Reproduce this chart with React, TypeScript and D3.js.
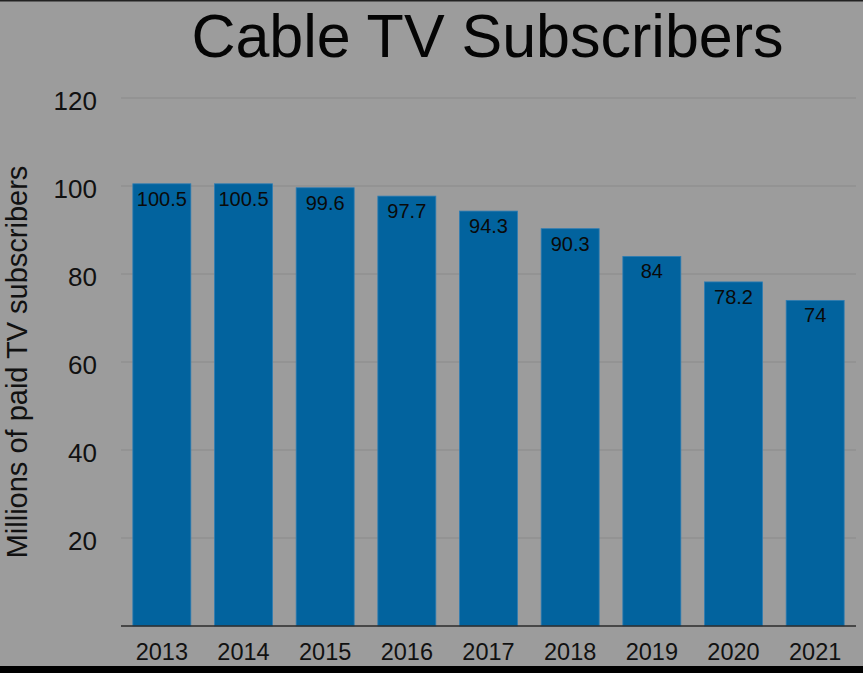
import React, { useEffect, useRef } from 'react';
import * as d3 from 'd3';

const years = ['2013', '2014', '2015', '2016', '2017', '2018', '2019', '2020', '2021'];
const subscribers = [100.5, 100.5, 99.6, 97.7, 94.3, 90.3, 84, 78.2, 74];
const yTicks = [20, 40, 60, 80, 100, 120];

const W = 863;
const H = 673;

export default function App() {
  const svgRef = useRef<SVGSVGElement>(null);

  useEffect(() => {
    if (!svgRef.current) return;
    const svg = d3.select(svgRef.current);
    svg.selectAll('*').remove();

    const font = '"Liberation Sans", Arial, Helvetica, sans-serif';
    const plot = { left: 121, right: 856, top: 98, bottom: 626 };

    // background + dark frame edges
    svg.append('rect').attr('width', W).attr('height', H).attr('fill', '#9c9c9c');
    svg.append('rect').attr('x', 0).attr('y', 666).attr('width', W).attr('height', H - 666).attr('fill', '#000');
    svg.append('rect').attr('x', 0).attr('y', 0).attr('width', W).attr('height', 1.5).attr('fill', '#222');

    const x = d3.scaleBand<string>()
      .domain(years)
      .range([plot.left, plot.right])
      .paddingInner(0.29)
      .paddingOuter(0.145);

    const y = d3.scaleLinear()
      .domain([0, 120])
      .range([plot.bottom, plot.top]);

    // gridlines
    svg.append('g')
      .selectAll('line')
      .data(yTicks)
      .join('line')
      .attr('x1', plot.left)
      .attr('x2', plot.right)
      .attr('y1', (d) => y(d))
      .attr('y2', (d) => y(d))
      .attr('stroke', '#8a8a8a')
      .attr('stroke-width', 1);

    // y tick labels
    svg.append('g')
      .selectAll('text')
      .data(yTicks)
      .join('text')
      .attr('x', 97)
      .attr('y', (d) => y(d) + 11.5)
      .attr('text-anchor', 'end')
      .attr('font-family', font)
      .attr('font-size', 26)
      .attr('fill', '#111')
      .text((d) => d);

    // bars
    svg.append('g')
      .selectAll('rect')
      .data(subscribers)
      .join('rect')
      .attr('x', (_, i) => x(years[i])!)
      .attr('y', (d) => y(d))
      .attr('width', x.bandwidth())
      .attr('height', (d) => y(0) - y(d))
      .attr('fill', '#02639e')
      .attr('stroke', '#2f7db3')
      .attr('stroke-width', 0.8);

    // value labels
    svg.append('g')
      .selectAll('text')
      .data(subscribers)
      .join('text')
      .attr('x', (_, i) => x(years[i])! + x.bandwidth() / 2)
      .attr('y', (d) => y(d) + 22)
      .attr('text-anchor', 'middle')
      .attr('font-family', font)
      .attr('font-size', 20)
      .attr('fill', '#0a0a0a')
      .text((d) => d);

    // x axis line
    svg.append('line')
      .attr('x1', plot.left)
      .attr('x2', plot.right)
      .attr('y1', y(0))
      .attr('y2', y(0))
      .attr('stroke', '#2b2b2b')
      .attr('stroke-width', 1.5);

    // x tick labels
    svg.append('g')
      .selectAll('text')
      .data(years)
      .join('text')
      .attr('x', (d) => x(d)! + x.bandwidth() / 2)
      .attr('y', 660)
      .attr('text-anchor', 'middle')
      .attr('font-family', font)
      .attr('font-size', 23.5)
      .attr('fill', '#111')
      .text((d) => d);

    // y axis title
    svg.append('text')
      .attr('transform', 'translate(27,362) rotate(-90)')
      .attr('text-anchor', 'middle')
      .attr('font-family', font)
      .attr('font-size', 29)
      .attr('fill', '#111')
      .text('Millions of paid TV subscribers');

    // title
    svg.append('text')
      .attr('x', 487.5)
      .attr('y', 57)
      .attr('text-anchor', 'middle')
      .attr('font-family', font)
      .attr('font-size', 61)
      .attr('fill', '#050505')
      .text('Cable TV Subscribers');
  }, []);

  return (
    <div style={{ position: 'fixed', left: 0, top: 0 }}>
      <svg ref={svgRef} width={W} height={H} style={{ display: 'block' }}></svg>
    </div>
  );
}
